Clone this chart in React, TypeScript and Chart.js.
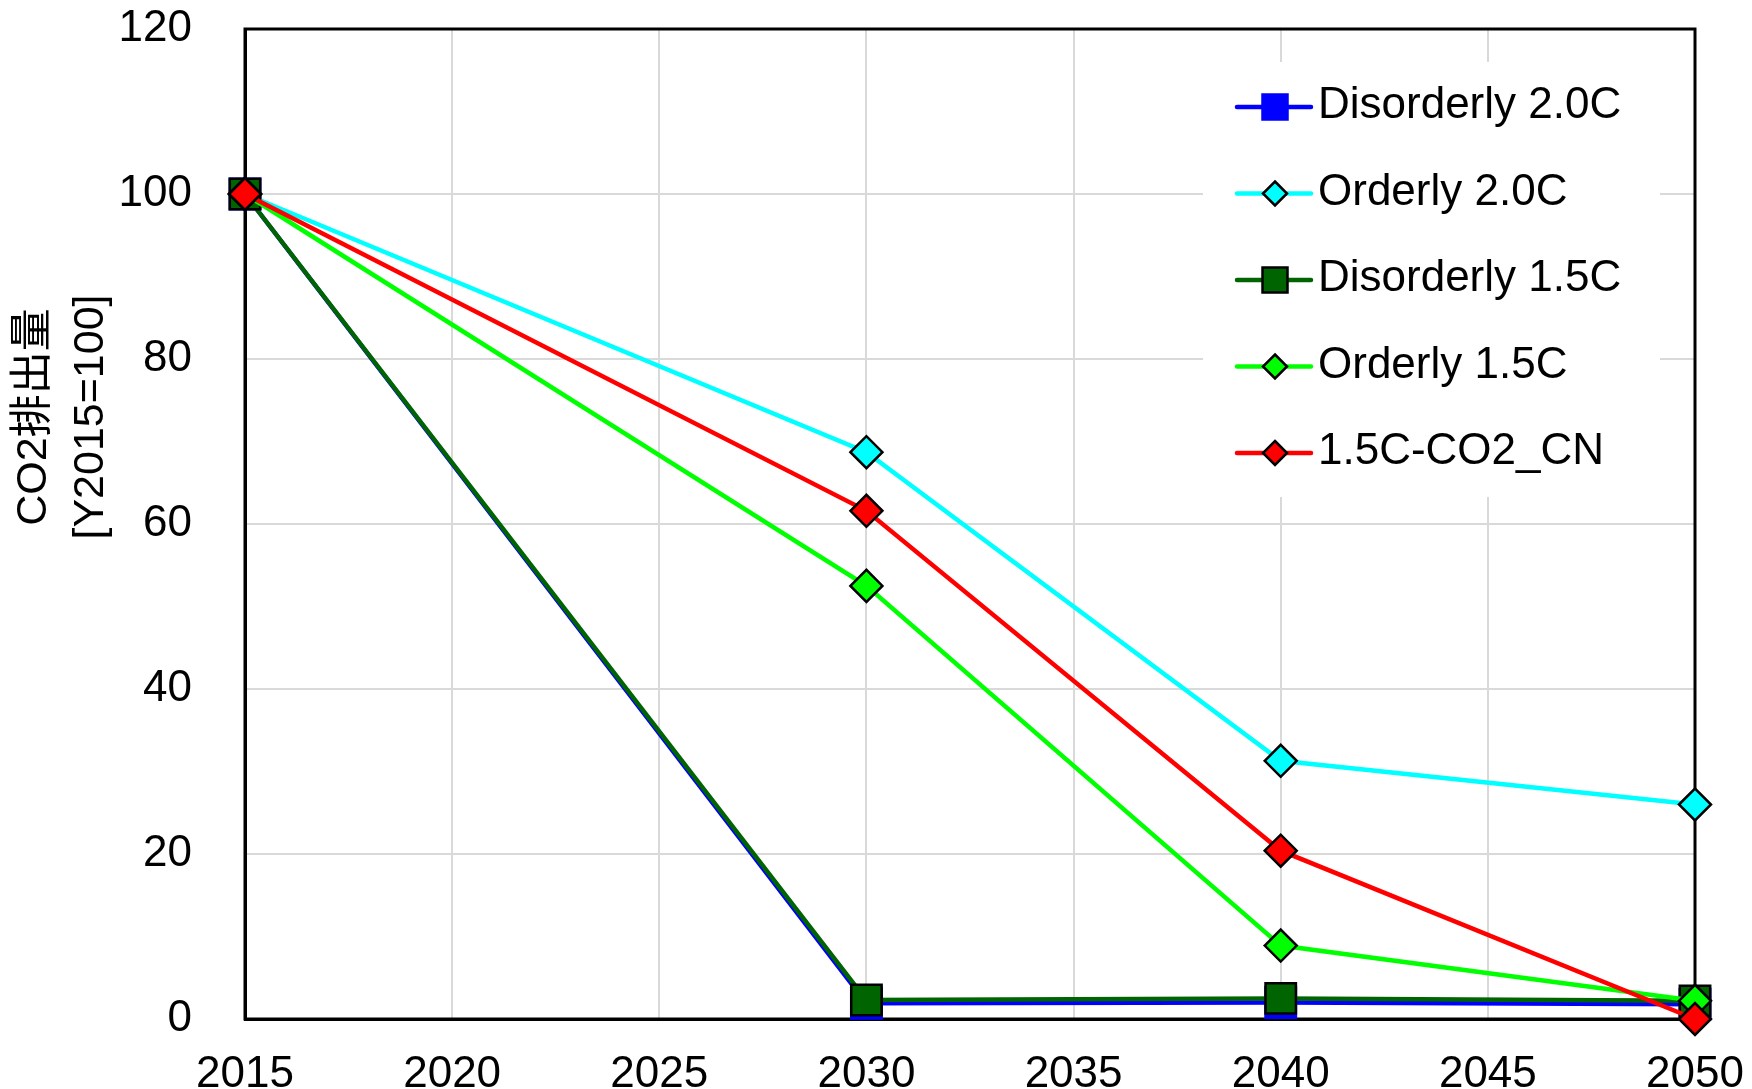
import React, { useEffect, useRef } from "react";
import { Chart, registerables } from "chart.js";

Chart.register(...registerables);

// ---- Data ----
const years = [2015, 2030, 2040, 2050];
const seriesNames = ["Disorderly 2.0C", "Orderly 2.0C", "Disorderly 1.5C", "Orderly 1.5C", "1.5C-CO2_CN"];
const disorderly20 = [100, 1.9, 2.0, 1.8];
const orderly20 = [100, 68.7, 31.3, 26.0];
const disorderly15 = [100, 2.3, 2.5, 2.2];
const orderly15 = [100, 52.5, 8.9, 2.2];
const cn15 = [100, 61.6, 20.4, 0];
const xMin = 2015;
const xMax = 2050;
const xStep = 5;
const yMin = 0;
const yMax = 120;
const yStep = 20;
const yTitleLines = ["CO2排出量", "[Y2015=100]"];

// ---- Styles ----
const FONT = "'Liberation Sans', Arial, 'Noto Sans CJK JP', sans-serif";
const lineColors = ["#0000FF", "#00FFFF", "#006400", "#00FF00", "#FF0000"];
const pointFills = ["#0000FF", "#00FFFF", "#006400", "#00FF00", "#FF0000"];
const pointBorders = ["#0000FF", "#000000", "#000000", "#000000", "#000000"];
const pointStyles = ["rect", "rectRot", "rect", "rectRot", "rectRot"];
const pointRadii = [21.5, 16, 21.5, 16, 16];

const allSeries = [disorderly20, orderly20, disorderly15, orderly15, cn15];

function drawMarker(ctx: CanvasRenderingContext2D, style: string, x: number, y: number, r: number, fill: string, stroke: string) {
  ctx.save();
  ctx.beginPath();
  if (style === "rect") {
    ctx.rect(x - r, y - r, 2 * r, 2 * r);
  } else {
    ctx.moveTo(x, y - r);
    ctx.lineTo(x + r, y);
    ctx.lineTo(x, y + r);
    ctx.lineTo(x - r, y);
    ctx.closePath();
  }
  ctx.fillStyle = fill;
  ctx.fill();
  ctx.lineWidth = 2.5;
  ctx.strokeStyle = stroke;
  ctx.lineJoin = "miter";
  ctx.stroke();
  ctx.restore();
}

const framePlugin = {
  id: "frame",
  beforeDatasetsDraw(chart: any) {
    const { ctx, chartArea } = chart;
    ctx.save();
    ctx.strokeStyle = "#000";
    ctx.lineWidth = 3;
    ctx.strokeRect(chartArea.left, chartArea.top, chartArea.right - chartArea.left, chartArea.bottom - chartArea.top);
    ctx.restore();
  },
};

const legendPlugin = {
  id: "customLegend",
  afterDatasetsDraw(chart: any) {
    const { ctx } = chart;
    ctx.save();
    ctx.fillStyle = "#fff";
    ctx.fillRect(1203, 62, 457, 435);
    chart.data.datasets.forEach((ds: any, i: number) => {
      const y = 107 + i * 86.5;
      ctx.beginPath();
      ctx.strokeStyle = ds.borderColor;
      ctx.lineWidth = 4.5;
      ctx.lineCap = "round";
      ctx.moveTo(1237, y);
      ctx.lineTo(1311, y);
      ctx.stroke();
      const r = ds.pointStyle === "rect" ? 12.5 : 12;
      drawMarker(ctx, ds.pointStyle, 1275, y, r, ds.pointBackgroundColor, ds.pointBorderColor);
      ctx.fillStyle = "#000";
      ctx.font = `44px ${FONT}`;
      ctx.textAlign = "left";
      ctx.textBaseline = "middle";
      ctx.fillText(ds.label, 1318, y - 1);
    });
    ctx.restore();
  },
};

const yTitlePlugin = {
  id: "yTitle",
  afterDraw(chart: any) {
    const { ctx } = chart;
    ctx.save();
    ctx.fillStyle = "#000";
    ctx.font = `43px ${FONT}`;
    ctx.textAlign = "center";
    ctx.textBaseline = "middle";
    const xs = [34, 91];
    yTitleLines.forEach((t, i) => {
      ctx.save();
      ctx.translate(xs[i], 417);
      ctx.rotate(-Math.PI / 2);
      ctx.fillText(t, 0, 0);
      ctx.restore();
    });
    ctx.restore();
  },
};

function zeroPadding(s: any) {
  s.paddingTop = 0;
  s.paddingBottom = 0;
  s.paddingLeft = 0;
  s.paddingRight = 0;
}

export default function App() {
  const ref = useRef<HTMLCanvasElement | null>(null);
  useEffect(() => {
    if (!ref.current) return;
    const n = allSeries.length;
    const datasets = allSeries.map((vals, i) => ({
      label: seriesNames[i],
      data: years.map((yr, j) => ({ x: yr, y: vals[j] })),
      borderColor: lineColors[i],
      backgroundColor: lineColors[i],
      borderWidth: 4.5,
      pointStyle: pointStyles[i],
      pointRadius: pointRadii[i],
      pointBackgroundColor: pointFills[i],
      pointBorderColor: pointBorders[i],
      pointBorderWidth: 2.5,
      tension: 0,
      fill: false,
      clip: false,
      order: n - 1 - i,
    }));
    const chart = new Chart(ref.current, {
      type: "line",
      data: { datasets },
      options: {
        animation: false,
        responsive: false,
        devicePixelRatio: 1,
        layout: { padding: { left: 0, top: 29, right: 57, bottom: 0 } },
        plugins: { legend: { display: false }, tooltip: { enabled: false } },
        scales: {
          x: {
            type: "linear",
            min: xMin,
            max: xMax,
            ticks: {
              stepSize: xStep,
              color: "#000",
              font: { size: 44, family: FONT },
              padding: 29,
              maxRotation: 0,
              callback: (v: any) => String(v),
            },
            grid: { color: "#d9d9d9", lineWidth: 2, drawTicks: false },
            border: { color: "#000", width: 3 },
            afterFit: (s: any) => {
              s.height = 70;
              zeroPadding(s);
            },
          },
          y: {
            type: "linear",
            min: yMin,
            max: yMax,
            ticks: {
              stepSize: yStep,
              color: "#000",
              font: { size: 44, family: FONT },
              padding: 53,
            },
            grid: { color: "#d9d9d9", lineWidth: 2, drawTicks: false },
            border: { color: "#000", width: 3 },
            afterFit: (s: any) => {
              s.width = 245;
              zeroPadding(s);
            },
          },
        },
      },
      plugins: [framePlugin, legendPlugin, yTitlePlugin],
    } as any);
    return () => chart.destroy();
  }, []);
  return (
    <div style={{ position: "absolute", left: 0, top: 0, width: 1752, height: 1089, background: "#fff" }}>
      <canvas ref={ref} width={1752} height={1089} style={{ width: 1752, height: 1089, display: "block" }} />
    </div>
  );
}
